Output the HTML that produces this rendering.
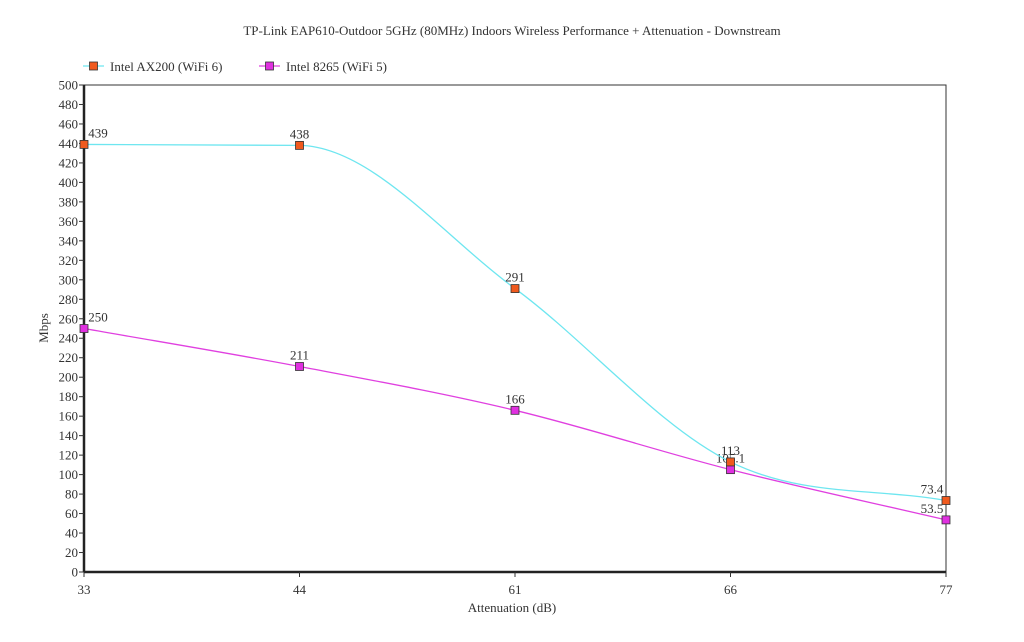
<!DOCTYPE html>
<html><head><meta charset="utf-8"><style>
body{margin:0;background:#fff;}
svg{display:block;font-family:"Liberation Serif",serif;}
</style></head><body>
<svg id="chart" width="1024" height="642">
<text x="512" y="35" text-anchor="middle" font-size="13" fill="#333">TP-Link EAP610-Outdoor 5GHz (80MHz) Indoors Wireless Performance + Attenuation - Downstream</text>
<g>
<g>
<line x1="83" y1="66" x2="104" y2="66" stroke="#6ee6f0" stroke-width="1.3"/>
<rect x="89.5" y="62" width="8" height="8" fill="#f05a1e" stroke="#333" stroke-width="0.8"/>
<text x="110" y="71" font-size="13" fill="#333">Intel AX200 (WiFi 6)</text></g>
<g>
<line x1="259" y1="66" x2="280" y2="66" stroke="#e040e0" stroke-width="1.3"/>
<rect x="265.5" y="62" width="8" height="8" fill="#e030e0" stroke="#333" stroke-width="0.8"/>
<text x="286" y="71" font-size="13" fill="#333">Intel 8265 (WiFi 5)</text></g>
</g>
<rect x="84" y="85" width="862" height="487" fill="none" stroke="#333" stroke-width="1"/>
<g id="axes"></g>
<g id="series"></g>
<text x="512" y="612" text-anchor="middle" font-size="13" fill="#333">Attenuation (dB)</text>
<text x="48" y="328" text-anchor="middle" font-size="13" fill="#333" transform="rotate(-90 48 328)">Mbps</text>
</svg>
<script>
const categories=["33","44","61","66","77"];
const ax200=[439,438,291,113,73.4];
const ax200Labels=["439","438","291","113","73.4"];
const i8265=[250,211,166,105.1,53.5];
const i8265Labels=["250","211","166","105.1","53.5"];
const yTicks=[0,20,40,60,80,100,120,140,160,180,200,220,240,260,280,300,320,340,360,380,400,420,440,460,480,500];
const L=84,R=946,T=85,B=572,YMAX=500;
const xs=i=>L+(R-L)*i/(categories.length-1);
const ys=v=>B-(B-T)*v/YMAX;
const NS="http://www.w3.org/2000/svg";
const axes=document.getElementById('axes'),ser=document.getElementById('series');
function mk(tag,attrs,parent){const e=document.createElementNS(NS,tag);for(const k in attrs)e.setAttribute(k,attrs[k]);parent.appendChild(e);return e;}
let yl=mk('line',{x1:L,y1:T,x2:L,y2:B,stroke:'#222','stroke-width':2.5},axes);


let xl=mk('line',{x1:L,y1:B,x2:R,y2:B,stroke:'#222','stroke-width':2.5},axes);


yTicks.forEach(v=>{mk('line',{x1:L-5,y1:ys(v),x2:L,y2:ys(v),stroke:'#333'},axes);
const t=mk('text',{x:L-6,y:ys(v)+4.5,'text-anchor':'end','font-size':13,fill:'#333'},axes);t.textContent=v;

});
categories.forEach((c,i)=>{mk('line',{x1:xs(i),y1:B,x2:xs(i),y2:B+5,stroke:'#333'},axes);
const t=mk('text',{x:xs(i),y:B+22,'text-anchor':'middle','font-size':13,fill:'#333'},axes);t.textContent=c;

});
function monoPath(px,py){const n=px.length,d=[],m=[];for(let i=0;i<n-1;i++)d.push((py[i+1]-py[i])/(px[i+1]-px[i]));
m[0]=d[0];m[n-1]=d[n-2];for(let i=1;i<n-1;i++){m[i]=d[i-1]*d[i]<=0?0:(d[i-1]+d[i])/2;}
for(let i=0;i<n-1;i++){if(d[i]===0){m[i]=m[i+1]=0;continue;}const a=m[i]/d[i],b=m[i+1]/d[i],s=a*a+b*b;if(s>9){const t=3/Math.sqrt(s);m[i]=t*a*d[i];m[i+1]=t*b*d[i];}}
let p=`M${px[0]},${py[0]}`;for(let i=0;i<n-1;i++){const h=(px[i+1]-px[i])/3;p+=` C${px[i]+h},${py[i]+m[i]*h} ${px[i+1]-h},${py[i+1]-m[i+1]*h} ${px[i+1]},${py[i+1]}`;}return p;}
function draw(vals,labels,color,fill,name,below){
const px=vals.map((v,i)=>xs(i)),py=vals.map(ys);
const p=mk('path',{d:monoPath(px,py),fill:'none',stroke:color,'stroke-width':1.3},ser);


vals.forEach((v,i)=>{const r=mk('rect',{x:px[i]-4,y:py[i]-4,width:8,height:8,fill:fill,stroke:'#333','stroke-width':0.8},ser);


const last=i===vals.length-1;
const t=mk('text',{x:last?px[i]-14:(i===0?px[i]+14:px[i]),y:py[i]-7,'text-anchor':'middle','font-size':13,fill:'#333'},ser);t.textContent=labels[i];

});}
draw(i8265,i8265Labels,'#e040e0','#e030e0','intel-8265');
draw(ax200,ax200Labels,'#6ee6f0','#f05a1e','intel-ax200');
</script>
</body></html>
